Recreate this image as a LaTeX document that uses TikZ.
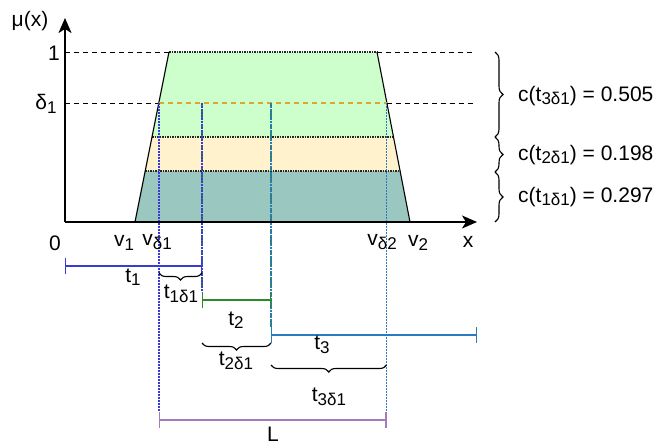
\documentclass[tikz,border=0pt]{standalone}
\usepackage{fontspec}
\setmainfont{Liberation Sans}
\usetikzlibrary{arrows.meta,decorations.pathreplacing}
\definecolor{bandgreen}{HTML}{CCFFCC}
\definecolor{bandcream}{HTML}{FFF2CC}
\definecolor{bandteal}{HTML}{9AC7BF}
\definecolor{cutorange}{HTML}{E2A336}
\definecolor{tonecol}{HTML}{3A3AD6}
\definecolor{ttwocol}{HTML}{2E8A22}
\definecolor{tthreecol}{HTML}{2A7AC0}
\definecolor{lencol}{HTML}{A37DBA}
\newcommand{\sbs}[1]{\raisebox{-0.32ex}{\fontsize{17}{19}\selectfont #1}}
\tikzset{
  lbl/.style={font=\fontsize{21}{24}\selectfont, inner sep=0pt},
  guide/.style={dash pattern=on 5pt off 4pt, line width=1pt},
  edge/.style={dash pattern=on 1.5pt off 1pt, line width=1.2pt, black!85},
  drop/.style={dash pattern=on 1.5pt off 1.5pt, line width=1.3pt},
  dropdash/.style={dash pattern=on 5pt off 2pt on 1.5pt off 2pt, line width=1.3pt},
  bar/.style={line width=1.4pt, {Bar[width=16pt]}-{Bar[width=16pt]}},
  brc/.style={decorate, decoration={brace, amplitude=7pt}, line width=1.1pt},
}
\begin{document}
\begin{tikzpicture}[x=1pt,y=-1pt]
  \useasboundingbox (0,0) rectangle (654,445);
  % key points
  \coordinate (O) at (65,222);
  \coordinate (ytip) at (65,18);
  \coordinate (xtip) at (477,222);
  \coordinate (bl) at (135,222);
  \coordinate (tl) at (169,52);
  \coordinate (tr) at (377,52);
  \coordinate (br) at (410,222);
  \coordinate (dl) at (159,103);
  \coordinate (dr) at (386.5,103);
  \coordinate (ma) at (202,103);
  \coordinate (mb) at (271,103);
  % bands
  \fill[bandgreen] (tl) -- (tr) -- (393.5,137) -- (152,137) -- cycle;
  \fill[bandcream] (152,137) -- (393.5,137) -- (400,171) -- (145.2,171) -- cycle;
  \fill[bandteal] (145.2,171) -- (400,171) -- (br) -- (bl) -- cycle;
  \draw[edge] (tl) -- (tr);
  \draw[edge] (152,137) -- (393.5,137);
  \draw[edge] (145.2,171) -- (400,171);
  \draw[edge] (bl) -- (br);
  \draw[line width=1.1pt] (bl) -- (tl);
  \draw[line width=1.1pt] (br) -- (tr);
  % dashed levels
  \draw[guide] (65,52) -- (tl);
  \draw[guide] (tr) -- (473,52);
  \draw[guide] (65,103) -- (dl);
  \draw[guide, cutorange, line width=1.4pt] (dl) -- (dr);
  \draw[guide] (dr) -- (473,103);
  % drop lines
  \draw[drop, tonecol] (dl) -- (159,412);
  \draw[dropdash, ttwocol] (ma) -- (202,292);
  \draw[drop, tonecol] (ma) -- (202,292);
  \draw[dropdash, ttwocol] (mb) -- (271,327);
  \draw[drop, tthreecol] (mb) -- (271,327);
  \draw[drop, tthreecol] (dr) -- (386.5,412);
  % axes
  \draw[line width=1.6pt, -{Stealth[length=15pt,width=13pt,inset=4pt]}] (O) -- (ytip);
  \draw[line width=1.6pt, -{Stealth[length=15pt,width=13pt,inset=4pt]}] (O) -- (xtip);
  \node[lbl] (mu) at (30,21) {μ(x)};
  \node[lbl] (one) at (54,53) {1};
  \node[lbl] (delta) at (46,104) {δ\sbs{1}};
  \node[lbl] (zero) at (55,243) {0};
  \node[lbl] (vone) at (124,243) {v\sbs{1}};
  \node[lbl] (vdone) at (157,242) {v\sbs{δ1}};
  \node[lbl] (vdtwo) at (382,242) {v\sbs{δ2}};
  \node[lbl] (vtwo) at (418,243) {v\sbs{2}};
  \node[lbl] (xlab) at (468,242) {x};
  % intervals
  \coordinate (tonea) at (65,266);
  \coordinate (toneb) at (202,266);
  \coordinate (ttwoa) at (202,300);
  \coordinate (ttwob) at (271,300);
  \coordinate (tthreea) at (271,335);
  \coordinate (tthreeb) at (477,335);
  \coordinate (lena) at (159,420);
  \coordinate (lenb) at (386.5,420);
  \draw[bar, tonecol] (tonea) -- (toneb);
  \draw[bar, ttwocol] (ttwoa) -- (ttwob);
  \draw[bar, tthreecol] (tthreea) -- (tthreeb);
  \draw[bar, lencol] (lena) -- (lenb);
  \node[lbl] (tone) at (133,277) {t\sbs{1}};
  \node[lbl] (ttwo) at (236,320) {t\sbs{2}};
  \node[lbl] (tthree) at (322,345) {t\sbs{3}};
  \node[lbl] (len) at (273,434) {L};
  % braces under the intervals
  \draw[brc, decoration={mirror}] (159,273) -- (202,273);
  \draw[brc, decoration={mirror}] (202,343) -- (271,343);
  \draw[brc, decoration={mirror}] (271,365) -- (386.5,365);
  \node[lbl] (tonecut) at (181,294) {t\sbs{1δ1}};
  \node[lbl] (ttwocut) at (236,361) {t\sbs{2δ1}};
  \node[lbl] (tthreecut) at (329,397) {t\sbs{3δ1}};
  % braces on the right
  \draw[brc, decoration={amplitude=8pt}] (495,52) -- (495,137);
  \draw[brc, decoration={amplitude=8pt}] (495,137) -- (495,172);
  \draw[brc, decoration={amplitude=8pt}] (495,172) -- (495,222);
  \node[lbl, anchor=west] (cthree) at (518,96) {c(t\sbs{3δ1}) = 0.505};
  \node[lbl, anchor=west] (ctwo) at (518,155) {c(t\sbs{2δ1}) = 0.198};
  \node[lbl, anchor=west] (cone) at (518,197) {c(t\sbs{1δ1}) = 0.297};
\end{tikzpicture}
\end{document}
